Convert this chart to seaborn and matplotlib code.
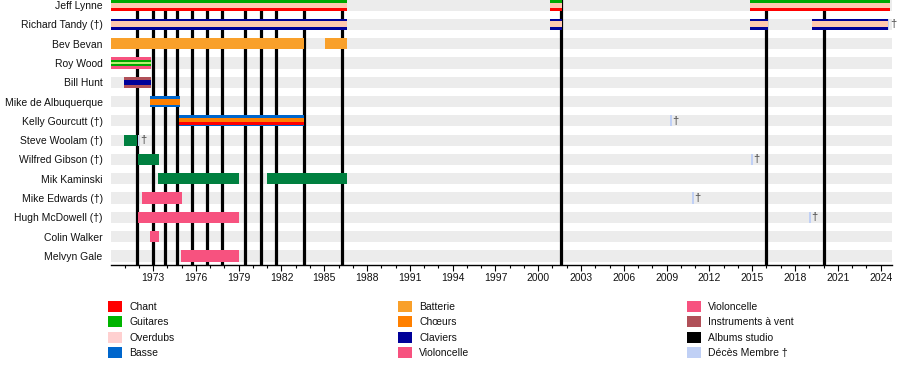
import matplotlib
matplotlib.use("Agg")
import matplotlib.pyplot as plt
from matplotlib.patches import Patch
from matplotlib.ticker import MultipleLocator
import seaborn as sns

# Members (top to bottom)
members = ["Jeff Lynne", "Richard Tandy (†)", "Bev Bevan", "Roy Wood", "Bill Hunt",
           "Mike de Albuquerque", "Kelly Gourcutt (†)", "Steve Woolam (†)",
           "Wilfred Gibson (†)", "Mik Kaminski", "Mike Edwards (†)",
           "Hugh McDowell (†)", "Colin Walker", "Melvyn Gale"]

# membership periods (decimal years)
periods = {
    "Jeff Lynne": [(1970.05, 1986.59), (2000.86, 2001.65), (2014.82, 2024.68)],
    "Richard Tandy (†)": [(1970.05, 1986.59), (2000.86, 2001.65), (2014.82, 2016.1), (2019.17, 2024.49)],
    "Bev Bevan": [(1970.05, 1983.6), (1985.05, 1986.57)],
    "Roy Wood": [(1970.05, 1972.84)],
    "Bill Hunt": [(1970.97, 1972.84)],
    "Mike de Albuquerque": [(1972.79, 1974.89)],
    "Kelly Gourcutt (†)": [(1974.82, 1983.58)],
    "Steve Woolam (†)": [(1970.97, 1971.88)],
    "Wilfred Gibson (†)": [(1971.93, 1973.42)],
    "Mik Kaminski": [(1973.35, 1979.02), (1980.99, 1986.59)],
    "Mike Edwards (†)": [(1972.23, 1975.03)],
    "Hugh McDowell (†)": [(1971.95, 1979.02)],
    "Colin Walker": [(1972.79, 1973.42)],
    "Melvyn Gale": [(1974.96, 1979.02)],
}

# roles per member, base role first
roles = {
    "Jeff Lynne": ["Guitares", "Chant", "Overdubs"],
    "Richard Tandy (†)": ["Claviers", "Overdubs"],
    "Bev Bevan": ["Batterie"],
    "Roy Wood": ["Violoncelle", "Guitares", "Guitares (clair)"],
    "Bill Hunt": ["Instruments à vent", "Claviers"],
    "Mike de Albuquerque": ["Basse", "Chœurs"],
    "Kelly Gourcutt (†)": ["Basse", "Chant", "Chœurs"],
    "Steve Woolam (†)": ["Violon"],
    "Wilfred Gibson (†)": ["Violon"],
    "Mik Kaminski": ["Violon"],
    "Mike Edwards (†)": ["Violoncelle"],
    "Hugh McDowell (†)": ["Violoncelle"],
    "Colin Walker": ["Violoncelle"],
    "Melvyn Gale": ["Violoncelle"],
}

# studio albums
albums = [1971.88, 1973.0, 1973.84, 1974.68, 1975.73, 1976.78, 1977.84, 1979.45,
          1980.57, 1981.62, 1983.58, 1986.24, 2001.59, 2015.99, 2020.0]

# deaths
deaths = {
    "Richard Tandy (†)": 2024.56,
    "Kelly Gourcutt (†)": 2009.29,
    "Steve Woolam (†)": 1971.98,
    "Wilfred Gibson (†)": 2015.0,
    "Mike Edwards (†)": 2010.83,
    "Hugh McDowell (†)": 2019.07,
}

legend_cols = [
    ["Chant", "Guitares", "Overdubs", "Basse"],
    ["Batterie", "Chœurs", "Claviers", "Violoncelle"],
    ["Violoncelle", "Instruments à vent", "Albums studio", "Décès Membre †"],
]

colors = {
    "Chant": "#ff0000",
    "Guitares": "#00b400",
    "Guitares (clair)": "#b8f070",
    "Overdubs": "#ffd0d0",
    "Basse": "#0066cc",
    "Batterie": "#f9a02a",
    "Chœurs": "#ff8000",
    "Claviers": "#000099",
    "Violoncelle": "#f7527f",
    "Violon": "#008040",
    "Instruments à vent": "#b05058",
    "Albums studio": "#000000",
    "Décès Membre †": "#c0d0f5",
}
bar_override = {"Overdubs": "#ffc8ae", "Guitares": "#00a800"}

# layer geometry: (height, vertical offset) in row units
layer_geom = [(0.58, 0.0), (0.31, 0.0), (0.09, 0.0)]
special_geom = {
    "Jeff Lynne": [(0.58, 0.0), (0.42, 0.08), (0.26, 0.05)],
    "Kelly Gourcutt (†)": [(0.58, 0.0), (0.38, 0.02), (0.2, -0.03)],
    "Bill Hunt": [(0.58, 0.0), (0.25, 0.0)],
}

sns.set_theme(style="white")
plt.rcParams["font.family"] = ["Liberation Sans", "DejaVu Sans"]

fig = plt.figure(figsize=(9, 3.8), dpi=100)
ax = fig.add_axes([111 / 900, 1 - 265 / 380, 781 / 900, 265 / 380])

xmin, xmax = 1970.05, 2024.8
ypos = {m: i for i, m in enumerate(members)}

# background bands
ax.barh(range(len(members)), xmax - xmin, left=xmin, height=0.58,
        color="#ececec", zorder=0, linewidth=0)

# album lines
ax.vlines(albums, -1, len(members) + 1, color=colors["Albums studio"], lw=2.3, zorder=2)

# member bars
for m in members:
    geom = special_geom.get(m, layer_geom)
    for k, role in enumerate(roles[m]):
        h, off = geom[k]
        c = bar_override.get(role, colors[role])
        for s, e in periods[m]:
            ax.barh(ypos[m] + off, e - s, left=s, height=h, color=c,
                    linewidth=0, zorder=3 + k)

# deaths
for m, d in deaths.items():
    ax.barh(ypos[m], 0.12, left=d - 0.06, height=0.58,
            color=colors["Décès Membre †"], linewidth=0, zorder=6)
    ax.annotate("†", (d, ypos[m]), xytext=(1, 0), textcoords="offset points",
                ha="left", va="center", fontsize=8, color="#444444", zorder=7,
                annotation_clip=False)

ax.set_xlim(xmin, xmax)
ax.set_ylim(13.47, -0.26)
ax.set_yticks(range(len(members)))
ax.set_yticklabels(members, fontsize=7.5, color="#111111")
ax.tick_params(axis="y", length=0, pad=6)

ax.xaxis.set_minor_locator(MultipleLocator(1))
ax.tick_params(axis="x", which="major", length=4, width=0.8, color="black",
               labelsize=7.5, labelcolor="#111111", pad=2, bottom=True)
ax.tick_params(axis="x", which="minor", length=2.5, width=0.8, color="black", bottom=True)
ax.set_xticks(range(1973, 2025, 3))
ax.set_xticklabels([str(y) for y in range(1973, 2025, 3)])

for side in ["top", "left", "right"]:
    ax.spines[side].set_visible(False)
ax.spines["bottom"].set_color("black")
ax.spines["bottom"].set_linewidth(1)
ax.grid(False)

# legend in three columns
col_x = [108, 398, 687]
for cx, labels in zip(col_x, legend_cols):
    handles = [Patch(facecolor=colors[l], edgecolor="none", label=l) for l in labels]
    leg = fig.legend(handles=handles, loc="upper left",
                     bbox_to_anchor=(cx / 900, 1 - 301 / 380), frameon=False,
                     fontsize=7.5, handlelength=1.3, handleheight=1.25,
                     handletextpad=0.75, labelspacing=0.42, borderpad=0,
                     borderaxespad=0)
    for t in leg.get_texts():
        t.set_color("#111111")

fig.savefig("out.png", dpi=100)
